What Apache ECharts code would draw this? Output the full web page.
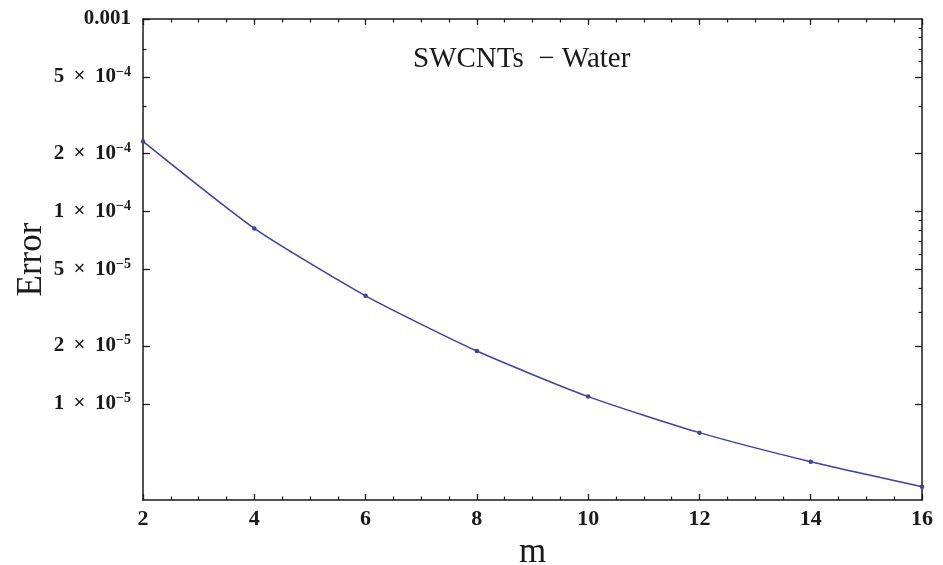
<!DOCTYPE html>
<html>
<head>
<meta charset="utf-8">
<script src="https://cdn.jsdelivr.net/npm/echarts@6/dist/echarts.min.js"></script>
<style>
  html, body { margin: 0; padding: 0; background: #fff; }
  #chart { width: 943px; height: 565px; }
</style>
</head>
<body>
<div id="chart"></div>
<script>
// m values and the error
const mValues = [2, 4, 6, 8, 10, 12, 14, 16]
const errorValues = [2.31e-4, 8.16e-5, 3.64e-5, 1.88e-5, 1.09e-5, 7.08e-6, 5.0e-6, 3.71e-6]

// y ticks (log axis)
const yMajorTicks = [1e-5, 2e-5, 5e-5, 1e-4, 2e-4, 5e-4, 1e-3]
const yTickLabels = ['1\u2009 × \u200910^−5', '2\u2009 × \u200910^−5', '5\u2009 × \u200910^−5',
  '1\u2009 × \u200910^−4', '2\u2009 × \u200910^−4', '5\u2009 × \u200910^−4', '0.001']
const yLeftMinorTicks = [3.5e-4, 7e-4]
const yRightMajorTicks = [1e-5, 2e-5, 5e-5, 1e-4, 2e-4, 5e-4]
const yRightMinorTicks = [3e-5, 4e-5, 6e-5, 7e-5, 8e-5, 9e-5, 3.5e-4, 6e-4, 7e-4, 8e-4, 9e-4]

const yMin = 3.1623e-6
const yMax = 1e-3

const serif = '"Liberation Serif", "DejaVu Serif", serif'
const ink = '#1a1a1a'
const lineColor = '#40409e'

function yLabel(v) {
  let best = 0
  for (let i = 1; i < yMajorTicks.length; i++) {
    if (Math.abs(Math.log10(yMajorTicks[i]) - Math.log10(v)) <
        Math.abs(Math.log10(yMajorTicks[best]) - Math.log10(v))) best = i
  }
  const parts = yTickLabels[best].split('^')
  if (parts.length === 1) return '{b|' + parts[0] + '}'
  return '{b|' + parts[0] + '}{s|' + parts[1] + '}'
}

const axisLine = { show: true, lineStyle: { color: ink, width: 1.5 } }

function logAxis(position, extra) {
  return Object.assign({
    type: 'log',
    logBase: 10,
    min: yMin,
    max: yMax,
    position: position,
    splitLine: { show: false },
    axisLine: { show: false },
    axisLabel: { show: false },
    axisTick: { show: false },
  }, extra)
}

const chart = echarts.init(document.getElementById('chart'))

chart.setOption({
  backgroundColor: '#fff',
  animation: false,
  title: {
    text: 'SWCNTs  − Water',
    left: 408,
    top: 40,
    textStyle: { fontFamily: serif, fontSize: 29, fontWeight: 'normal', color: ink },
  },
  grid: { left: 143, right: 21, top: 19, bottom: 65, outerBoundsMode: 'none' },
  xAxis: [
    {
      type: 'value',
      min: 2,
      max: 16,
      interval: 2,
      position: 'bottom',
      name: 'm',
      nameLocation: 'middle',
      nameGap: 27,
      nameTextStyle: { fontFamily: serif, fontSize: 35, color: ink },
      axisLine: axisLine,
      splitLine: { show: false },
      axisTick: { inside: true, length: 6, lineStyle: { color: ink, width: 1.3 } },
      minorTick: { show: true, splitNumber: 4, length: 3.5, lineStyle: { color: ink, width: 1.2 } },
      axisLabel: { margin: 8, fontFamily: serif, fontSize: 22, fontWeight: 'bold', color: ink },
    },
    {
      type: 'value',
      min: 2,
      max: 16,
      interval: 2,
      position: 'top',
      axisLine: axisLine,
      splitLine: { show: false },
      axisTick: { inside: true, length: 6, lineStyle: { color: ink, width: 1.3 } },
      minorTick: { show: true, splitNumber: 4, length: 3.5, lineStyle: { color: ink, width: 1.2 } },
      axisLabel: { show: false },
    },
  ],
  yAxis: [
    logAxis('left', {
      name: 'Error',
      nameLocation: 'middle',
      nameGap: 94,
      nameMoveOverlap: false,
      nameTextStyle: { fontFamily: serif, fontSize: 35, color: ink },
      axisLine: axisLine,
      axisTick: { show: true, inside: true, length: 7, customValues: yMajorTicks, lineStyle: { color: ink, width: 1.3 } },
      axisLabel: {
        show: true,
        margin: 12,
        customValues: yMajorTicks,
        formatter: yLabel,
        rich: {
          b: { fontFamily: serif, fontSize: 21, fontWeight: 'bold', color: ink, lineHeight: 24 },
          s: { fontFamily: serif, fontSize: 14, fontWeight: 'bold', color: ink, lineHeight: 24, verticalAlign: 'top' },
        },
      },
    }),
    logAxis('left', {
      axisTick: { show: true, inside: true, length: 3.5, customValues: yLeftMinorTicks, lineStyle: { color: ink, width: 1.2 } },
    }),
    logAxis('right', {
      axisLine: axisLine,
      axisTick: { show: true, inside: true, length: 7, customValues: yRightMajorTicks, lineStyle: { color: ink, width: 1.3 } },
    }),
    logAxis('right', {
      axisTick: { show: true, inside: true, length: 3.5, customValues: yRightMinorTicks, lineStyle: { color: ink, width: 1.2 } },
    }),
  ],
  series: [
    {
      type: 'line',
      xAxisIndex: 0,
      yAxisIndex: 0,
      data: mValues.map((m, i) => [m, errorValues[i]]),
      smooth: 0.2,
      symbol: 'circle',
      symbolSize: 4.5,
      showSymbol: true,
      lineStyle: { color: lineColor, width: 1.5 },
      itemStyle: { color: lineColor },
    },
  ],
})
</script>
</body>
</html>
